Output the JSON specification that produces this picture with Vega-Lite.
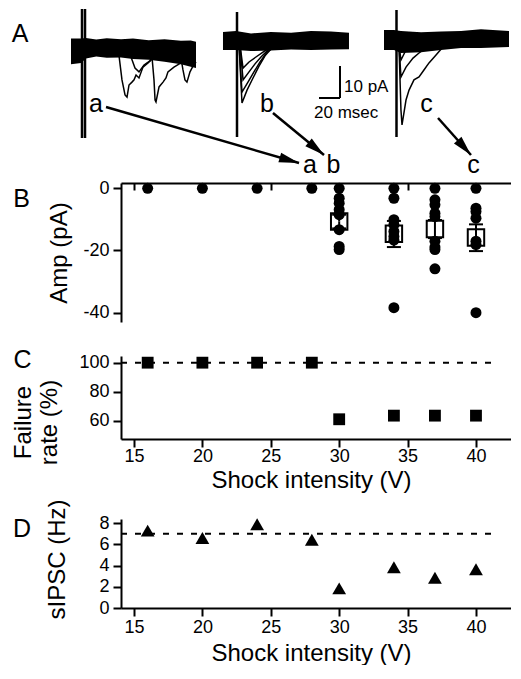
{
  "$schema": "https://vega.github.io/schema/vega-lite/v6.json",
  "background": "white",
  "padding": {"left": 11, "top": 0, "right": 0, "bottom": 0},
  "config": {
    "font": "Liberation Sans",
    "view": {"stroke": null},
    "axis": {
      "domainColor": "black", "domainWidth": 2, "tickColor": "black", "tickWidth": 2, "tickSize": 8,
      "labelFontSize": 18, "labelColor": "black", "labelFont": "Liberation Sans", "labelPadding": 4,
      "titleFont": "Liberation Sans", "titleFontSize": 24, "titleFontWeight": "normal", "titleColor": "black",
      "grid": false
    },
    "text": {"font": "Liberation Sans", "color": "black"}
  },
  "bounds": "flush",
  "spacing": 34,
  "resolve": {"scale": {"x": "independent", "y": "independent"}},
  "datasets": {
    "band": [
      {"g":"a","t":0.95,"i":2.0,"i2":-6.0},
      {"g":"a","t":10.5,"i":2.0,"i2":-5.6},
      {"g":"a","t":15.2,"i":2.2,"i2":-4.2},
      {"g":"a","t":25,"i":1.7,"i2":-3.6},
      {"g":"a","t":35,"i":2.1,"i2":-4.0},
      {"g":"a","t":48.6,"i":1.8,"i2":-3.9},
      {"g":"a","t":60,"i":2.0,"i2":-4.4},
      {"g":"a","t":75,"i":1.5,"i2":-4.6},
      {"g":"a","t":90,"i":1.8,"i2":-5.2},
      {"g":"a","t":105.7,"i":1.3,"i2":-6.0},
      {"g":"a","t":115,"i":1.4,"i2":-6.8},
      {"g":"a","t":120,"i":1.0,"i2":-7.2},
      {"g":"b","t":145.7,"i":4.1,"i2":-1.6},
      {"g":"b","t":158.1,"i":4.4,"i2":-1.6},
      {"g":"b","t":172.4,"i":3.6,"i2":-1.9},
      {"g":"b","t":191.4,"i":4.1,"i2":-1.7},
      {"g":"b","t":210.5,"i":3.8,"i2":-1.4},
      {"g":"b","t":229.5,"i":4.4,"i2":-1.6},
      {"g":"b","t":248.6,"i":4.2,"i2":-1.4},
      {"g":"b","t":265.7,"i":3.8,"i2":-1.3},
      {"g":"c","t":299.05,"i":4.7,"i2":-1.6},
      {"g":"c","t":308.6,"i":4.7,"i2":-1.6},
      {"g":"c","t":315.2,"i":4.4,"i2":-2.5},
      {"g":"c","t":334.3,"i":4.0,"i2":-2.3},
      {"g":"c","t":353.3,"i":4.2,"i2":-1.6},
      {"g":"c","t":372.4,"i":4.4,"i2":-0.9},
      {"g":"c","t":391.4,"i":4.9,"i2":-0.9},
      {"g":"c","t":418.1,"i":4.4,"i2":-0.6}
    ],
    "traces": [
      {"tr":"a1","t":46.7,"i":-3.4},{"tr":"a1","t":49.5,"i":-10.9},{"tr":"a1","t":52.4,"i":-15.6},{"tr":"a1","t":54.3,"i":-16.3},{"tr":"a1","t":56.2,"i":-12.5},{"tr":"a1","t":59,"i":-11.6},{"tr":"a1","t":61,"i":-10.9},{"tr":"a1","t":62.9,"i":-9.4},{"tr":"a1","t":65.7,"i":-10.3},{"tr":"a1","t":69.5,"i":-6.9},{"tr":"a1","t":74.3,"i":-5.6},{"tr":"a1","t":79,"i":-4.1},
      {"tr":"a2","t":78.1,"i":-3.75},{"tr":"a2","t":80,"i":-10.9},{"tr":"a2","t":81,"i":-17.2},{"tr":"a2","t":81.9,"i":-17.8},{"tr":"a2","t":84.8,"i":-13.1},{"tr":"a2","t":88.6,"i":-11.6},{"tr":"a2","t":91.4,"i":-10.3},{"tr":"a2","t":93.3,"i":-8.4},{"tr":"a2","t":99,"i":-6.9},{"tr":"a2","t":105.7,"i":-5.6},{"tr":"a2","t":111.4,"i":-4.7},
      {"tr":"a3","t":105.7,"i":-4.1},{"tr":"a3","t":107.6,"i":-7.8},{"tr":"a3","t":109.5,"i":-10.9},{"tr":"a3","t":111.4,"i":-11.6},{"tr":"a3","t":114.3,"i":-8.4},{"tr":"a3","t":117.1,"i":-6.6},{"tr":"a3","t":120,"i":-5.3},
      {"tr":"a4","t":58.1,"i":-3.75},{"tr":"a4","t":61.9,"i":-7.2},{"tr":"a4","t":65.7,"i":-8.4},{"tr":"a4","t":70.5,"i":-6.25},{"tr":"a4","t":77.1,"i":-4.7},
      {"tr":"b1","t":161,"i":0},{"tr":"b1","t":163.8,"i":-18.1},{"tr":"b1","t":168.6,"i":-14.1},{"tr":"b1","t":174.3,"i":-10.3},{"tr":"b1","t":180,"i":-6.6},{"tr":"b1","t":185.7,"i":-3.4},{"tr":"b1","t":191.4,"i":-1.25},
      {"tr":"b2","t":161,"i":0},{"tr":"b2","t":163.8,"i":-14.7},{"tr":"b2","t":169.5,"i":-11.6},{"tr":"b2","t":175.2,"i":-8.4},{"tr":"b2","t":181,"i":-5.3},{"tr":"b2","t":187.6,"i":-2.2},{"tr":"b2","t":193.3,"i":-0.9},
      {"tr":"b3","t":161.9,"i":0},{"tr":"b3","t":164.8,"i":-10.9},{"tr":"b3","t":170.5,"i":-8.4},{"tr":"b3","t":176.2,"i":-5.9},{"tr":"b3","t":181.9,"i":-3.75},{"tr":"b3","t":188.6,"i":-1.56},
      {"tr":"b4","t":161.9,"i":0},{"tr":"b4","t":164.8,"i":-7.2},{"tr":"b4","t":170.5,"i":-5.3},{"tr":"b4","t":177.1,"i":-3.75},{"tr":"b4","t":183.8,"i":-2.2},{"tr":"b4","t":189.5,"i":-0.94},
      {"tr":"c1","t":313.3,"i":0},{"tr":"c1","t":315.2,"i":-20.3},{"tr":"c1","t":316.2,"i":-25},{"tr":"c1","t":320,"i":-17.2},{"tr":"c1","t":322.9,"i":-14.1},{"tr":"c1","t":327.6,"i":-10.9},{"tr":"c1","t":332.4,"i":-10},{"tr":"c1","t":337.1,"i":-7.8},{"tr":"c1","t":341.9,"i":-5.6},{"tr":"c1","t":348.6,"i":-3.1},{"tr":"c1","t":355.2,"i":-0.6},
      {"tr":"c2","t":313.3,"i":0},{"tr":"c2","t":315.2,"i":-10},{"tr":"c2","t":320,"i":-6.9},{"tr":"c2","t":326.7,"i":-4.1},{"tr":"c2","t":332.4,"i":-2.5},{"tr":"c2","t":339,"i":-0.9},
      {"tr":"c3","t":313.3,"i":0},{"tr":"c3","t":315.2,"i":-4.7},{"tr":"c3","t":320,"i":-1.56},{"tr":"c3","t":326.7,"i":-0.6}
    ],
    "artifacts": [
      {"t":11.43,"i":11.25,"i2":-29.06},
      {"t":14.29,"i":11.25,"i2":-29.06},
      {"t":159.05,"i":10.31,"i2":-28.75},
      {"t":310.95,"i":10.94,"i2":-28.75}
    ],
    "scalebar": [
      {"t":257.14,"i":-6.56,"t2":257.14,"i2":-16.56},
      {"t":237.14,"i":-16.56,"t2":257.14,"i2":-16.56}
    ],
    "arrows": [
      {"t":34.29,"i":-19.375,"t2":218.1,"i2":-36.875},
      {"t":193.3,"i":-21.25,"t2":241.9,"i2":-34.375},
      {"t":350.5,"i":-22.8,"t2":381.9,"i2":-34.375}
    ],
    "heads": [
      {"t":218.1,"i":-36.875,"ang":106},
      {"t":241.9,"i":-34.375,"ang":129.5},
      {"t":381.9,"i":-34.375,"ang":138.3}
    ],
    "atext": [
      {"t":-47.62,"i":0.94,"label":"A"},
      {"t":24.76,"i":-20.94,"label":"a"},
      {"t":187.6,"i":-20.94,"label":"b"},
      {"t":339.5,"i":-20.94,"label":"c"}
    ],
    "scaletext": [
      {"t":260.95,"i":-14.69,"label":"10 pA"},
      {"t":232.4,"i":-22.8,"label":"20 msec"}
    ],
    "bdots": [
      {"v":16,"amp":0},{"v":20,"amp":0},{"v":24,"amp":0},{"v":28,"amp":0},
      {"v":30,"amp":0},{"v":30,"amp":-3.2},{"v":30,"amp":-4.8},{"v":30,"amp":-6.9},{"v":30,"amp":-8.5},{"v":30,"amp":-13.3},{"v":30,"amp":-18.7},{"v":30,"amp":-19.7},
      {"v":34,"amp":0},{"v":34,"amp":-3.2},{"v":34,"amp":-10.1},{"v":34,"amp":-11.7},{"v":34,"amp":-13.9},{"v":34,"amp":-15.5},{"v":34,"amp":-16.7},{"v":34,"amp":-38.4},
      {"v":37,"amp":0},{"v":37,"amp":-3.7},{"v":37,"amp":-5.3},{"v":37,"amp":-8},{"v":37,"amp":-9.1},{"v":37,"amp":-17},{"v":37,"amp":-18.9},{"v":37,"amp":-19.7},{"v":37,"amp":-25.9},
      {"v":40,"amp":0},{"v":40,"amp":-6.4},{"v":40,"amp":-7.5},{"v":40,"amp":-9.6},{"v":40,"amp":-17},{"v":40,"amp":-18.1},{"v":40,"amp":-40}
    ],
    "bmean": [
      {"v":30,"amp":-10.7,"lo":-12.9,"hi":-8.5},
      {"v":34,"amp":-14.6,"lo":-18.9,"hi":-10.5},
      {"v":37,"amp":-13.1,"lo":-16.0,"hi":-10.2},
      {"v":40,"amp":-15.8,"lo":-20.2,"hi":-11.6}
    ],
    "bcaps": [
      {"v":30,"amp":-12.9},{"v":30,"amp":-8.5},
      {"v":34,"amp":-18.9},{"v":34,"amp":-10.5},
      {"v":37,"amp":-16.0},{"v":37,"amp":-10.2},
      {"v":40,"amp":-20.2},{"v":40,"amp":-11.6}
    ],
    "btext": [
      {"v":27.87,"amp":4.92,"label":"a"},
      {"v":29.58,"amp":4.92,"label":"b"},
      {"v":39.82,"amp":4.92,"label":"c"},
      {"v":6.78,"amp":-6.0,"label":"B"}
    ],
    "cdata": [
      {"v":16,"rate":100},{"v":20,"rate":100},{"v":24,"rate":100},{"v":28,"rate":100},
      {"v":30,"rate":61},{"v":34,"rate":63.5},{"v":37,"rate":63.5},{"v":40,"rate":63.5}
    ],
    "cref": [{"v":14.05,"v2":41.6,"rate":100}],
    "ctext": [{"v":6.85,"rate":96.35,"label":"C"}],
    "ddata": [
      {"v":16,"hz":7.3},{"v":20,"hz":6.6},{"v":24,"hz":7.9},{"v":28,"hz":6.45},
      {"v":30,"hz":1.85},{"v":34,"hz":3.85},{"v":37,"hz":2.85},{"v":40,"hz":3.65}
    ],
    "dref": [{"v":14.05,"v2":41.6,"hz":7}],
    "dtext": [{"v":6.81,"hz":6.68,"label":"D"}]
  },
  "vconcat": [
    {
      "width": 390, "height": 149,
      "encoding": {
        "x": {"field": "t", "type": "quantitative", "scale": {"domain": [48.571, 420], "nice": false, "zero": false}, "axis": null},
        "y": {"field": "i", "type": "quantitative", "scale": {"domain": [-32.5, 14.0625], "nice": false, "zero": false}, "axis": null}
      },
      "layer": [
        {"data": {"name": "band"}, "mark": {"type": "area", "color": "black"}, "encoding": {"y2": {"field": "i2"}, "detail": {"field": "g"}}},
        {"data": {"name": "traces"}, "mark": {"type": "line", "color": "black", "strokeWidth": 1.5}, "encoding": {"detail": {"field": "tr"}}},
        {"data": {"name": "artifacts"}, "mark": {"type": "rule", "color": "black", "strokeWidth": 2.5}, "encoding": {"y2": {"field": "i2"}}},
        {"data": {"name": "scalebar"}, "mark": {"type": "rule", "color": "black", "strokeWidth": 2}, "encoding": {"x2": {"field": "t2"}, "y2": {"field": "i2"}}},
        {"data": {"name": "arrows"}, "mark": {"type": "rule", "color": "black", "strokeWidth": 2.5}, "encoding": {"x2": {"field": "t2"}, "y2": {"field": "i2"}}},
        {"data": {"name": "heads"}, "mark": {"type": "point", "shape": "M0,0L-0.5,2L0.5,2Z", "filled": true, "color": "black", "size": 400, "opacity": 1}, "encoding": {"angle": {"field": "ang", "type": "quantitative", "scale": null}}},
        {"data": {"name": "atext"}, "mark": {"type": "text", "fontSize": 25, "align": "center", "baseline": "alphabetic"}, "encoding": {"text": {"field": "label"}}},
        {"data": {"name": "scaletext"}, "mark": {"type": "text", "fontSize": 17, "align": "left", "baseline": "alphabetic"}, "encoding": {"text": {"field": "label"}}}
      ]
    },
    {
      "width": 390, "height": 139,
      "encoding": {
        "x": {"field": "v", "type": "quantitative", "scale": {"domain": [14.05, 42.56], "nice": false, "zero": false}, "axis": {"orient": "top", "values": [15, 25, 35], "labels": false, "tickSize": -7, "title": null}},
        "y": {"field": "amp", "type": "quantitative", "scale": {"domain": [-43, 1.7], "nice": false, "zero": false}, "axis": {"values": [0, -20, -40], "labelExpr": "'' + datum.value", "title": "Amp (pA)", "titleX": -50, "titleY": 69.5, "titleBaseline": "bottom"}}
      },
      "layer": [
        {"data": {"name": "bdots"}, "mark": {"type": "point", "shape": "circle", "filled": true, "color": "black", "size": 121, "opacity": 1}},
        {"data": {"name": "bmean"}, "mark": {"type": "rule", "color": "black", "strokeWidth": 2}, "encoding": {"y2": {"field": "lo"}}},
        {"data": {"name": "bmean"}, "mark": {"type": "rule", "color": "black", "strokeWidth": 2}, "encoding": {"y2": {"field": "hi"}}},
        {"data": {"name": "bcaps"}, "mark": {"type": "tick", "orient": "horizontal", "color": "black", "size": 14, "thickness": 2, "opacity": 1}},
        {"data": {"name": "bmean"}, "mark": {"type": "point", "shape": "square", "filled": false, "color": "black", "strokeWidth": 2, "size": 270, "opacity": 1}},
        {"data": {"name": "btext"}, "mark": {"type": "text", "fontSize": 25, "align": "center", "baseline": "alphabetic"}, "encoding": {"text": {"field": "label"}}}
      ]
    },
    {
      "width": 390, "height": 83,
      "encoding": {
        "x": {"field": "v", "type": "quantitative", "scale": {"domain": [14.05, 42.56], "nice": false, "zero": false}, "axis": {"values": [15, 20, 25, 30, 35, 40], "labelPadding": 0, "title": "Shock intensity (V)", "titleX": 190, "titleY": 29, "titleBaseline": "top"}},
        "y": {"field": "rate", "type": "quantitative", "scale": {"domain": [47.4, 104.6], "nice": false, "zero": false}, "axis": {"values": [60, 80, 100], "title": ["Failure", "rate (%)"], "titleX": -86, "titleY": 66, "titleBaseline": "bottom", "titleLineHeight": 26}}
      },
      "layer": [
        {"data": {"name": "cref"}, "mark": {"type": "rule", "color": "black", "strokeWidth": 2, "strokeDash": [6, 8]}, "encoding": {"x2": {"field": "v2"}}},
        {"data": {"name": "cdata"}, "mark": {"type": "point", "shape": "square", "filled": true, "color": "black", "size": 140, "opacity": 1}},
        {"data": {"name": "ctext"}, "mark": {"type": "text", "fontSize": 25, "align": "center", "baseline": "alphabetic"}, "encoding": {"text": {"field": "label"}}}
      ]
    },
    {
      "width": 390, "height": 12,
      "data": {"values": [{"z": 1}]},
      "mark": {"type": "point", "opacity": 0}
    },
    {
      "width": 390, "height": 89,
      "encoding": {
        "x": {"field": "v", "type": "quantitative", "scale": {"domain": [14.05, 42.56], "nice": false, "zero": false}, "axis": {"values": [15, 20, 25, 30, 35, 40], "labelPadding": 2, "title": "Shock intensity (V)", "titleX": 190, "titleY": 33, "titleBaseline": "top"}},
        "y": {"field": "hz", "type": "quantitative", "scale": {"domain": [0, 8.4], "nice": false, "zero": false}, "axis": {"values": [0, 2, 4, 6, 8], "title": "sIPSC (Hz)", "titleX": -52, "titleY": 40, "titleBaseline": "bottom"}}
      },
      "layer": [
        {"data": {"name": "dref"}, "mark": {"type": "rule", "color": "black", "strokeWidth": 2, "strokeDash": [6, 8]}, "encoding": {"x2": {"field": "v2"}}},
        {"data": {"name": "ddata"}, "mark": {"type": "point", "shape": "triangle-up", "filled": true, "color": "black", "size": 190, "opacity": 1}},
        {"data": {"name": "dtext"}, "mark": {"type": "text", "fontSize": 25, "align": "center", "baseline": "alphabetic"}, "encoding": {"text": {"field": "label"}}}
      ]
    }
  ]
}
